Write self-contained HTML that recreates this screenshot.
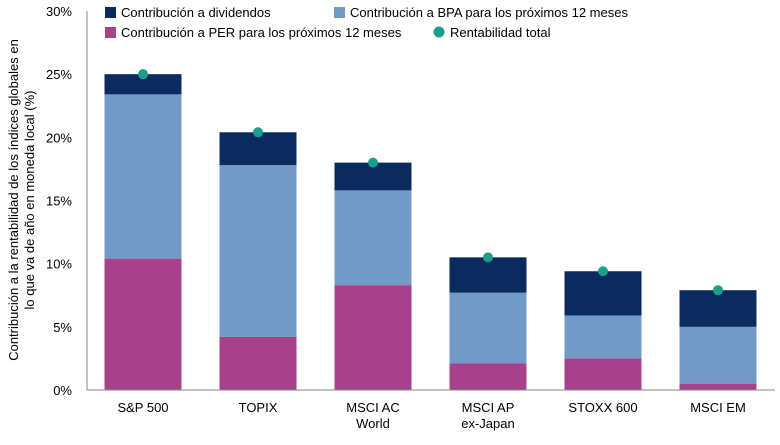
<!DOCTYPE html>
<html><head><meta charset="utf-8"><style>
body{margin:0;background:#fff;font-family:"Liberation Sans",sans-serif;}
svg text{font-family:"Liberation Sans",sans-serif;fill:#000;}
</style></head><body>
<svg id="c" width="780" height="440"></svg>
<script>
const categories=[["S&P 500"],["TOPIX"],["MSCI AC","World"],["MSCI AP","ex-Japan"],["STOXX 600"],["MSCI EM"]];
const perValues=[10.4,4.2,8.3,2.1,2.5,0.5];
const bpaValues=[13.0,13.6,7.5,5.6,3.4,4.5];
const divValues=[1.6,2.6,2.2,2.8,3.5,2.9];
const totalValues=[25.0,20.4,18.0,10.5,9.4,7.9];
const yTicks=[0,5,10,15,20,25,30];
const NS="http://www.w3.org/2000/svg";
const svg=document.getElementById('c');
const x0=87,x1=775,yb=390,yt=11,ymax=30;
const y=v=>yb-(v/ymax)*(yb-yt);
const step=115,bw=77,first=143;
const xc=i=>first+i*step;
function el(t,a,p){const e=document.createElementNS(NS,t);for(const k in a)e.setAttribute(k,a[k]);(p||svg).appendChild(e);return e;}
yTicks.forEach(t=>{
const tx=el('text',{x:72,y:y(t)+5,'text-anchor':'end','font-size':13});
tx.textContent=t+'%';


});
const cols=['#a6418a','#7399c6','#0b2b5e'];
const names=['per','bpa','div'];
categories.forEach((c,i)=>{
let base=0;
[perValues[i],bpaValues[i],divValues[i]].forEach((v,k)=>{
const r=el('rect',{x:xc(i)-bw/2,y:y(base+v),width:bw,height:y(base)-y(base+v),fill:cols[k]});


base+=v;});
const d=el('circle',{cx:xc(i),cy:y(totalValues[i]),r:5,fill:'#1a9e8a'});


c.forEach((l,j)=>{const t=el('text',{x:xc(i),y:412+j*16,'text-anchor':'middle','font-size':13});t.textContent=l;

});
});
const ax=el('line',{x1:x0,y1:yt,x2:x0,y2:yb,stroke:'#888','stroke-width':1});


const bx=el('line',{x1:x0,y1:yb,x2:x1,y2:yb,stroke:'#888','stroke-width':1});


const yt1=el('text',{transform:'translate(18,200) rotate(-90)','text-anchor':'middle','font-size':13});
yt1.textContent='Contribución a la rentabilidad de los índices globales en';


const yt2=el('text',{transform:'translate(34,200) rotate(-90)','text-anchor':'middle','font-size':13});
yt2.textContent='lo que va de año en moneda local (%)';


const leg=[['rect','#0b2b5e','Contribución a dividendos',105,12],['rect','#7399c6','Contribución a BPA para los próximos 12 meses',334,12],['rect','#a6418a','Contribución a PER para los próximos 12 meses',105,32],['circle','#1a9e8a','Rentabilidad total',434,32]];
leg.forEach(l=>{
let m;
if(l[0]==='rect')m=el('rect',{x:l[3],y:l[4]-5,width:11,height:11,fill:l[1]});
else m=el('circle',{cx:l[3]+5,cy:l[4],r:5.5,fill:l[1]});


const t=el('text',{x:l[3]+16,y:l[4]+5,'font-size':13});t.textContent=l[2];


});
</script>
</body></html>
